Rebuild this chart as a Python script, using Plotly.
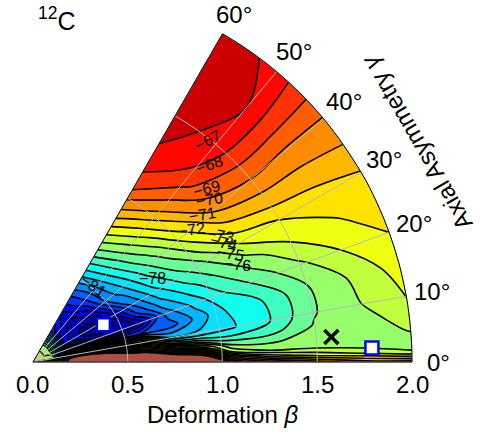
import numpy as np
import plotly.graph_objects as go

# ---------------- data ----------------
beta = [0, 0.1, 0.2, 0.3, 0.4, 0.5, 0.6, 0.75, 0.9, 1.05, 1.25, 1.5, 1.75, 2.0]
gamma = [0, 1.5, 3, 5, 7.5, 10, 15, 20, 25, 30, 40, 50, 60]

# energy[j][i] : gamma[j], beta[i]
e_g00 = [-74, -71.0, -64.0, -54.0, -54.0, -54.0, -55.0, -56.0, -62.0, -66.5, -68.5, -69.5, -70.5, -70.5]
e_g01 = [-74, -72.0, -64.5, -55.0, -55.0, -56.0, -57.0, -60.0, -64.0, -70.0, -72.5, -73.5, -74.0, -74.9]
e_g03 = [-74, -72.5, -65.0, -57.0, -58.0, -60.0, -62.0, -66.0, -68.0, -74.0, -75.3, -75.2, -75.6, -75.4]
e_g05 = [-74, -73.0, -65.5, -61.0, -63.0, -65.5, -66.5, -70.5, -73.0, -76.0, -76.2, -75.6, -75.6, -74.9]
e_g07 = [-74, -73.5, -67.0, -66.0, -67.5, -70.0, -70.5, -76.0, -77.5, -78.0, -77.6, -75.9, -75.4, -74.4]
e_g10 = [-74, -74.0, -70.0, -71.0, -72.0, -75.0, -75.0, -80.0, -79.8, -79.2, -78.2, -76.1, -75.05, -73.97]
e_g15 = [-74, -74.5, -77.0, -79.0, -80.0, -83.0, -83.0, -82.5, -80.6, -79.0, -78.0, -76.1, -74.8, -73.5]
e_g20 = [-74, -75.0, -81.0, -84.5, -86.5, -87.0, -85.8, -81.5, -79.7, -78.2, -76.8, -75.2, -73.9, -73.0]
e_g25 = [-74, -75.2, -83.5, -86.8, -87.5, -86.8, -83.2, -80.3, -78.6, -77.2, -75.6, -74.0, -73.1, -72.5]
e_g30 = [-74, -75.5, -85.5, -87.2, -87.4, -85.0, -82.0, -79.3, -77.5, -76.1, -74.0, -73.0, -72.5, -72.06]
e_g40 = [-74, -75.5, -85.5, -86.8, -85.5, -82.0, -80.3, -77.6, -75.5, -73.2, -70.8, -70.0, -70.1, -70.05]
e_g50 = [-74, -75.5, -84.5, -86.0, -83.6, -81.4, -79.0, -76.0, -73.3, -70.8, -68.5, -67.3, -67.0, -67.35]
e_g60 = [-74, -75.5, -83.5, -85.0, -83.0, -80.5, -78.0, -74.5, -71.5, -69.0, -67.2, -66.6, -66.4, -66.3]
energy = [e_g00, e_g01, e_g03, e_g05, e_g07, e_g10, e_g15, e_g20, e_g25, e_g30, e_g40, e_g50, e_g60]

beta_ticks = [0.0, 0.5, 1.0, 1.5, 2.0]
gamma_ticks = [0, 10, 20, 30, 40, 50, 60]
gamma_tick_r = [2.14, 2.14, 2.14, 2.14, 2.14, 2.14, 2.12]

# contour labels: (text, x, y, angle)
label_text = ["−67", "−68", "−69", "−70", "−71", "−72", "−73", "−74", "−75", "−76", "−78", "−81"]
label_x = [0.923, 0.934, 0.918, 0.934, 0.897, 0.839, 0.987, 1.003, 1.040, 1.077, 0.628, 0.317]
label_y = [1.171, 1.040, 0.918, 0.855, 0.776, 0.697, 0.670, 0.628, 0.575, 0.512, 0.443, 0.406]
label_ang = [-28, -20, -15, -10, -10, -8, 10, 14, 10, 5, 0, 35]

# markers (beta, gamma)
sq_beta = [0.42, 1.79]
sq_gamma = [28, 2.4]
x_beta = [1.58]
x_gamma = [4.8]

# ---------------- styling ----------------
def jet(t):
    r = np.clip(min(4 * t - 1.5, -4 * t + 4.5), 0, 1)
    g = np.clip(min(4 * t - 0.5, -4 * t + 3.5), 0, 1)
    b = np.clip(min(4 * t + 0.5, -4 * t + 2.5), 0, 1)
    return "rgb(%d,%d,%d)" % (round(255 * r), round(255 * g), round(255 * b))

start, end, step = -87, -66, 1
nc = int(round((end - start) / step)) + 1          # 22 levels
nb = nc + 1                                         # 23 colour bands
band_cols = [jet(k / 23.0) for k in range(nb)]
band_cols[nb - 2] = "rgb(204,0,0)"
band_cols[nb - 1] = "rgb(176,78,66)"
colorscale = [[k / (nb - 1), c] for k, c in enumerate(band_cols)]

FONT = "Liberation Sans, Arial, sans-serif"

# carpet geometry (polar -> cartesian)
X = [[b * np.cos(np.radians(g)) for b in beta] for g in gamma]
Y = [[b * np.sin(np.radians(g)) for b in beta] for g in gamma]

fig = go.Figure()
fig.add_trace(go.Carpet(
    carpet="c", a=beta, b=gamma, x=X, y=Y,
    aaxis=dict(tickmode="linear", tick0=0.5, dtick=0.5, showgrid=True,
               gridcolor="#b8b8b8", gridwidth=1, showticklabels="none",
               startline=False, endline=True, endlinecolor="black", endlinewidth=1,
               smoothing=1, minorgridcount=0, showline=False),
    baxis=dict(tickmode="linear", tick0=0, dtick=10, showgrid=True,
               gridcolor="#b8b8b8", gridwidth=1, showticklabels="none",
               startline=True, endline=True, startlinecolor="black",
               endlinecolor="black", startlinewidth=1.2, endlinewidth=1,
               smoothing=1, minorgridcount=0, showline=False),
))
fig.add_trace(go.Contourcarpet(
    carpet="c", a=beta, b=gamma, z=energy,
    autocontour=False,
    contours=dict(start=start, end=end, size=step, coloring="fill", showlines=True),
    line=dict(color="black", width=1.6),
    colorscale=colorscale, showscale=False,
))
fig.add_trace(go.Scattercarpet(
    carpet="c", a=sq_beta, b=sq_gamma, mode="markers",
    marker=dict(symbol="square", size=13, color="white",
                line=dict(color="#0000ff", width=2.5)),
))
fig.add_trace(go.Scattercarpet(
    carpet="c", a=x_beta, b=x_gamma, mode="markers",
    marker=dict(symbol="x-thin", size=14, color="black",
                line=dict(color="black", width=3.5)),
))

ann = []
for t, x, y, a in zip(label_text, label_x, label_y, label_ang):
    ann.append(dict(x=x, y=y, xref="x", yref="y", text=t, showarrow=False,
                    textangle=a, font=dict(family=FONT, size=16, color="black")))
for bt in beta_ticks:
    ann.append(dict(x=bt, y=-0.118, xref="x", yref="y", text="%.1f" % bt,
                    showarrow=False, font=dict(family=FONT, size=24, color="black")))
for gt, rr in zip(gamma_ticks, gamma_tick_r):
    ann.append(dict(x=rr * np.cos(np.radians(gt)), y=rr * np.sin(np.radians(gt)),
                    xref="x", yref="y", text="%d°" % gt, showarrow=False,
                    font=dict(family=FONT, size=24, color="black")))
ann.append(dict(x=1.0, y=-0.276, xref="x", yref="y", text="Deformation <i>β</i>",
                showarrow=False, font=dict(family=FONT, size=24, color="black")))
ann.append(dict(x=2.026, y=1.161, xref="x", yref="y", text="Axial Asymmetry <i>γ</i>",
                showarrow=False, textangle=-120,
                font=dict(family=FONT, size=24, color="black")))
ann.append(dict(x=0.125, y=1.81, xref="x", yref="y", text="<sup>12</sup>C",
                showarrow=False, font=dict(family=FONT, size=25, color="black")))

fig.update_layout(
    width=480, height=432, margin=dict(l=0, r=0, t=0, b=0),
    paper_bgcolor="white", plot_bgcolor="white", showlegend=False,
    xaxis=dict(visible=False, range=[-0.1741, 2.3588]),
    yaxis=dict(visible=False, range=[-0.3694, 1.9103]),
    annotations=ann,
)
fig.write_html("out.html")
